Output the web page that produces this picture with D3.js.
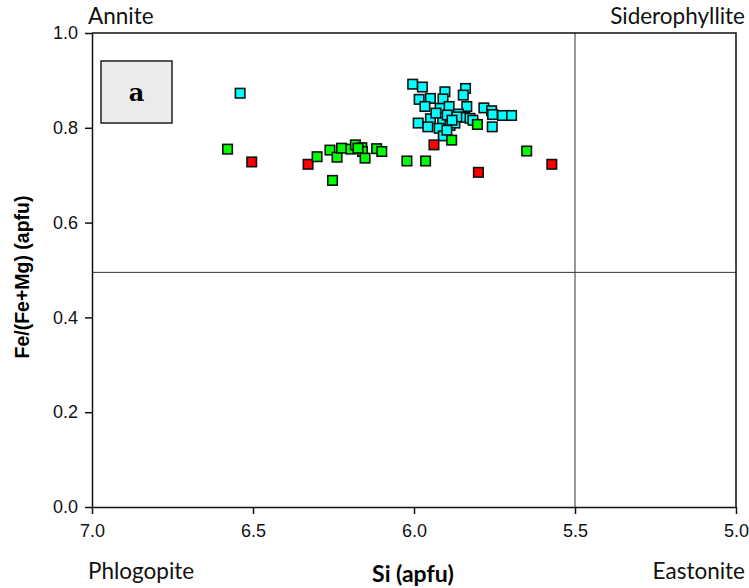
<!DOCTYPE html>
<html>
<head>
<meta charset="utf-8">
<script src="https://cdn.jsdelivr.net/npm/d3@7"></script>
<style>
  body { margin: 0; background: #fff; }
</style>
</head>
<body>
<div id="chart"></div>
<script>
// Si (apfu) vs Fe/(Fe+Mg) (apfu), three groups of biotite analyses
const cyanSi = [6.540, 6.004, 5.974, 5.904, 5.840, 5.847, 5.984, 5.949, 5.910, 5.966, 5.919, 5.891,
  5.836, 5.783, 5.759, 5.756, 5.725, 5.697, 5.862, 5.949, 5.911, 5.987, 5.957, 5.922, 5.888, 5.873,
  5.909, 5.842, 5.826, 5.757, 5.897, 5.867, 5.817, 5.882, 5.898, 5.932];
const cyanFe = [0.873, 0.892, 0.886, 0.876, 0.883, 0.869, 0.860, 0.862, 0.861, 0.845, 0.841, 0.845,
  0.845, 0.842, 0.836, 0.828, 0.826, 0.826, 0.829, 0.819, 0.812, 0.810, 0.802, 0.799, 0.805, 0.810,
  0.783, 0.822, 0.820, 0.802, 0.827, 0.823, 0.816, 0.816, 0.795, 0.831];

const redSi = [6.504, 6.329, 5.938, 5.800, 5.572];
const redFe = [0.728, 0.723, 0.764, 0.706, 0.723];

const greenSi = [6.579, 6.301, 6.253, 6.261, 6.239, 6.225, 6.196, 6.182, 6.162, 6.160, 6.152, 6.116,
  6.100, 6.022, 5.964, 5.883, 5.803, 5.650, 6.174];
const greenFe = [0.755, 0.739, 0.689, 0.753, 0.738, 0.757, 0.755, 0.764, 0.758, 0.750, 0.736, 0.756,
  0.750, 0.730, 0.730, 0.774, 0.807, 0.751, 0.757];

const xTicks = [7.0, 6.5, 6.0, 5.5, 5.0];
const yTicks = [0.0, 0.2, 0.4, 0.6, 0.8, 1.0];
const siDivide = 5.5, feDivide = 0.495;

const width = 749, height = 588;
const margin = {top: 33, right: 13, bottom: 81, left: 92};
const gill = "Lato, 'Open Sans', sans-serif";
const arial = "'Liberation Sans', Arial, sans-serif";

const svg = d3.select("#chart").append("svg")
  .attr("width", width).attr("height", height);

const x = d3.scaleLinear().domain([7, 5]).range([margin.left, width - margin.right]);
const y = d3.scaleLinear().domain([0, 1]).range([height - margin.bottom, margin.top]);

// divider lines
svg.append("line")
  .attr("x1", x(siDivide)).attr("x2", x(siDivide))
  .attr("y1", y(0)).attr("y2", y(1))
  .attr("stroke", "#333").attr("stroke-width", 1);
svg.append("line")
  .attr("x1", x(7)).attr("x2", x(5))
  .attr("y1", y(feDivide)).attr("y2", y(feDivide))
  .attr("stroke", "#333").attr("stroke-width", 1);

// frame (top + right)
svg.append("path")
  .attr("d", `M${x(7)},${y(1)}H${x(5)}V${y(0)}`)
  .attr("fill", "none").attr("stroke", "#111").attr("stroke-width", 1.5);

// axes
const xAxis = svg.append("g")
  .attr("transform", `translate(0,${y(0)})`)
  .call(d3.axisBottom(x).tickValues(xTicks).tickFormat(d3.format(".1f")).tickSize(7).tickSizeOuter(0));
const yAxis = svg.append("g")
  .attr("transform", `translate(${x(7)},0)`)
  .call(d3.axisLeft(y).tickValues(yTicks).tickFormat(d3.format(".1f")).tickSize(7).tickSizeOuter(0));
[xAxis, yAxis].forEach(g => {
  g.attr("font-family", arial).attr("font-size", 18);
  g.select(".domain").attr("stroke", "#111").attr("stroke-width", 1.5);
  g.selectAll(".tick line").attr("stroke", "#111").attr("stroke-width", 1.5);
  g.selectAll(".tick text").attr("fill", "#111");
});
xAxis.selectAll(".tick text").attr("y", 15).attr("dy", "0.85em");
yAxis.selectAll(".tick text").attr("x", -14);

// axis titles
svg.append("text")
  .attr("x", 413).attr("y", 582)
  .attr("text-anchor", "middle")
  .style("font-family", gill)
  .style("font-size", "23px").style("font-weight", "bold")
  .text("Si (apfu)");
svg.append("text")
  .attr("transform", `translate(29,${y(0.5) + 7}) rotate(-90)`)
  .attr("text-anchor", "middle")
  .style("font-family", arial)
  .style("font-size", "19.5px").style("font-weight", "bold")
  .text("Fe/(Fe+Mg) (apfu)");

// end-member labels
const corner = (tx, ty, anchor, label) => svg.append("text")
  .attr("x", tx).attr("y", ty).attr("text-anchor", anchor)
  .style("font-family", gill).style("font-size", "22.5px").style("fill", "#111")
  .text(label);
corner(88, 24, "start", "Annite");
corner(745, 24, "end", "Siderophyllite");
corner(88, 579, "start", "Phlogopite");
corner(745, 579, "end", "Eastonite");

// panel label
svg.append("rect")
  .attr("x", 101).attr("y", 61).attr("width", 71).attr("height", 62)
  .attr("fill", "#ebebeb").attr("stroke", "#222").attr("stroke-width", 1.5);
svg.append("text")
  .attr("x", 136.5).attr("y", 101)
  .attr("text-anchor", "middle")
  .style("font-family", "'DejaVu Serif', serif")
  .style("font-size", "24px").style("font-weight", "bold")
  .text("a");

// points
const s = 9.5;
function drawGroup(si, fe, color) {
  svg.append("g").selectAll("rect")
    .data(si.map((v, i) => ({si: v, fe: fe[i]})))
    .join("rect")
    .attr("x", d => x(d.si) - s / 2)
    .attr("y", d => y(d.fe) - s / 2)
    .attr("width", s).attr("height", s)
    .attr("fill", color)
    .attr("stroke", "#111").attr("stroke-width", 1.6);
}
drawGroup(cyanSi, cyanFe, "#00ffff");
drawGroup(redSi, redFe, "#ff0000");
drawGroup(greenSi, greenFe, "#00ff00");
</script>
</body>
</html>
